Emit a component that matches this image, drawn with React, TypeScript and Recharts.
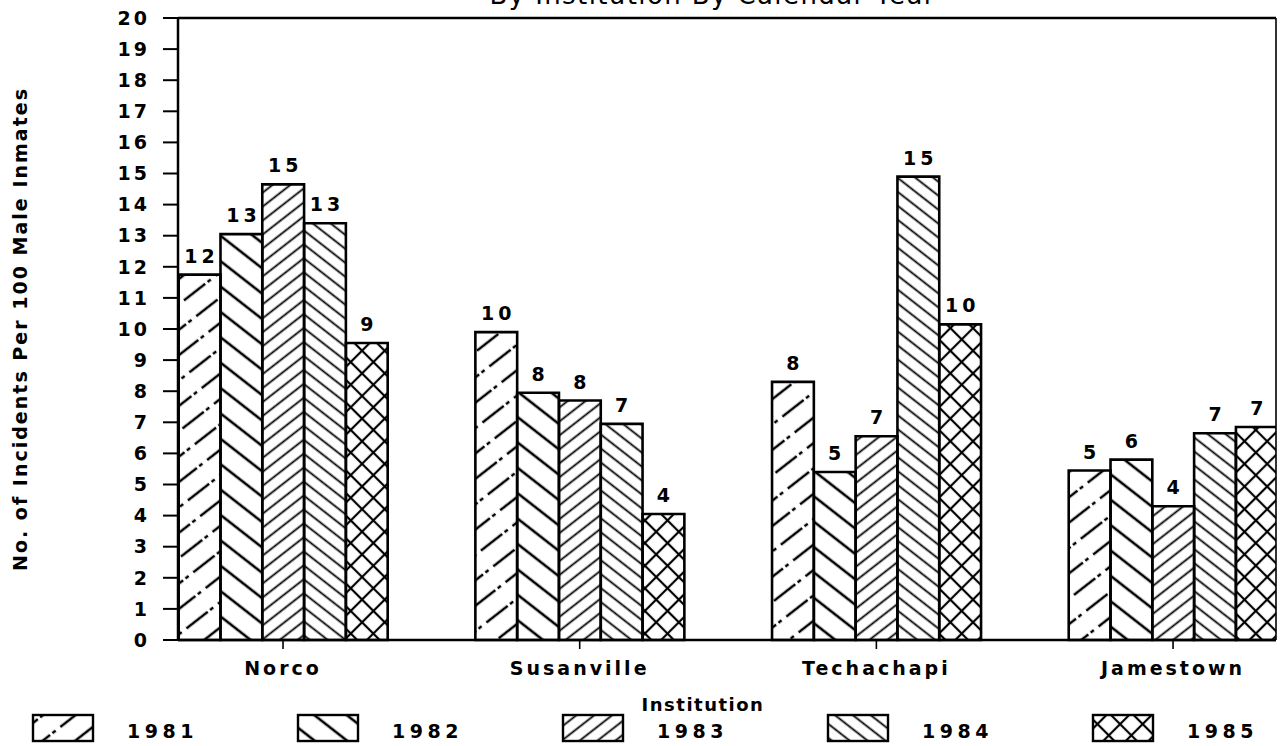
import { Bar, BarChart, LabelList, ReferenceLine, XAxis, YAxis } from "recharts";

const institutions = ["Norco", "Susanville", "Techachapi", "Jamestown"];
const years = ["1981", "1982", "1983", "1984", "1985"];

// bar heights
const rate1981 = [11.75, 9.9, 8.3, 5.45];
const rate1982 = [13.05, 7.95, 5.4, 5.8];
const rate1983 = [14.65, 7.7, 6.55, 4.3];
const rate1984 = [13.4, 6.95, 14.9, 6.65];
const rate1985 = [9.55, 4.05, 10.15, 6.85];

// printed labels above the bars
const label1981 = [12, 10, 8, 5];
const label1982 = [13, 8, 5, 6];
const label1983 = [15, 8, 7, 4];
const label1984 = [13, 7, 15, 7];
const label1985 = [9, 4, 10, 7];

const yTicks = [0, 1, 2, 3, 4, 5, 6, 7, 8, 9, 10, 11, 12, 13, 14, 15, 16, 17, 18, 19, 20];
const xTicks = [0, 1, 2, 3];

const rates = [rate1981, rate1982, rate1983, rate1984, rate1985];
const labels = [label1981, label1982, label1983, label1984, label1985];

const data = institutions.map((name, i) => {
  const row: Record<string, number | string> = { pos: i, name };
  years.forEach((y, k) => {
    row["r" + y] = rates[k][i];
    row["l" + y] = labels[k][i];
  });
  return row;
});

const X_MIN = -0.354;
const X_MAX = 3.347;

const font = "'DejaVu Sans', sans-serif";
const ink = "#000";

const tickText = {
  fill: ink,
  fontFamily: font,
  fontWeight: 700,
  fontSize: 19,
  letterSpacing: 3,
};

function Patterns() {
  return (
    <defs>
      <pattern id="p1981" patternUnits="userSpaceOnUse" width={40} height={20} patternTransform="rotate(-38)">
        <line x1={0} y1={10} x2={40} y2={10} stroke={ink} strokeWidth={2.6} strokeDasharray="27 3 4 6" />
      </pattern>
      <pattern id="p1982" patternUnits="userSpaceOnUse" width={20} height={20} patternTransform="rotate(38)">
        <line x1={0} y1={10} x2={20} y2={10} stroke={ink} strokeWidth={2.6} />
      </pattern>
      <pattern id="p1983" patternUnits="userSpaceOnUse" width={11} height={11} patternTransform="rotate(-38)">
        <line x1={0} y1={5.5} x2={11} y2={5.5} stroke={ink} strokeWidth={1.8} />
      </pattern>
      <pattern id="p1984" patternUnits="userSpaceOnUse" width={11} height={11} patternTransform="rotate(38)">
        <line x1={0} y1={5.5} x2={11} y2={5.5} stroke={ink} strokeWidth={1.8} />
      </pattern>
      <pattern id="p1985" patternUnits="userSpaceOnUse" width={16} height={16} patternTransform="rotate(45)">
        <line x1={0} y1={8} x2={16} y2={8} stroke={ink} strokeWidth={2.2} />
        <line x1={8} y1={0} x2={8} y2={16} stroke={ink} strokeWidth={2.2} />
      </pattern>
    </defs>
  );
}

function Overlay() {
  const legendX = [33, 298, 563, 828, 1093];
  return (
    <svg
      width={1281}
      height={746}
      style={{ position: "absolute", left: 0, top: 0, pointerEvents: "none" }}
    >
      <Patterns />
      <text x={712} y={4} textAnchor="middle" fontFamily={font} fontSize={26} fill={ink} textLength={445}>
        By Institution By Calendar Year
      </text>
      <text
        transform="translate(27,330) rotate(-90)"
        textAnchor="middle"
        fontFamily={font}
        fontWeight={700}
        fontSize={19}
        fill={ink}
        textLength={482}
      >
        No. of Incidents Per 100 Male Inmates
      </text>
      <text x={703} y={711} textAnchor="middle" fontFamily={font} fontWeight={700} fontSize={18} letterSpacing={1.5} fill={ink}>
        Institution
      </text>
      {years.map((y, k) => (
        <g key={y}>
          <rect
            x={legendX[k]}
            y={715}
            width={60}
            height={26}
            fill={`url(#p${y})`}
            stroke={ink}
            strokeWidth={2.4}
          />
          <text x={legendX[k] + 94} y={738} fontFamily={font} fontWeight={700} fontSize={19} letterSpacing={4.5} fill={ink}>
            {y}
          </text>
        </g>
      ))}
    </svg>
  );
}

export default function App() {
  return (
    <div style={{ position: "absolute", left: 0, top: 0, width: 1281, height: 746, background: "#fff" }}>
      <BarChart
        width={1281}
        height={746}
        data={data}
        margin={{ top: 18, right: 5, bottom: 66, left: 0 }}
        barGap={0}
      >
        <XAxis
          type="number"
          dataKey="pos"
          domain={[X_MIN, X_MAX]}
          ticks={xTicks}
          interval={0}
          allowDataOverflow
          tickFormatter={(v) => institutions[Number(v)] ?? ""}
          height={40}
          tickSize={9}
          tickMargin={13}
          axisLine={{ stroke: ink, strokeWidth: 2.5 }}
          tickLine={{ stroke: ink, strokeWidth: 1.6 }}
          tick={tickText}
        />
        <YAxis
          domain={[0, 20]}
          ticks={yTicks}
          interval={0}
          width={178}
          tickSize={15}
          tickMargin={13}
          axisLine={{ stroke: ink, strokeWidth: 2.5 }}
          tickLine={{ stroke: ink, strokeWidth: 2 }}
          tick={tickText}
        />
        <ReferenceLine y={20} stroke={ink} strokeWidth={2.5} />
        <ReferenceLine x={X_MAX} stroke={ink} strokeWidth={1.6} />
        {years.map((y) => (
          <Bar
            key={y}
            dataKey={"r" + y}
            fill={`url(#p${y})`}
            stroke={ink}
            strokeWidth={2.6}
            barSize={41.8}
            isAnimationActive={false}
          >
            <LabelList
              dataKey={"l" + y}
              position="top"
              offset={12}
              fill={ink}
              fontFamily={font}
              fontWeight={700}
              fontSize={19}
              letterSpacing={4}
              dx={2}
            />
          </Bar>
        ))}
      </BarChart>
      <Overlay />
    </div>
  );
}
